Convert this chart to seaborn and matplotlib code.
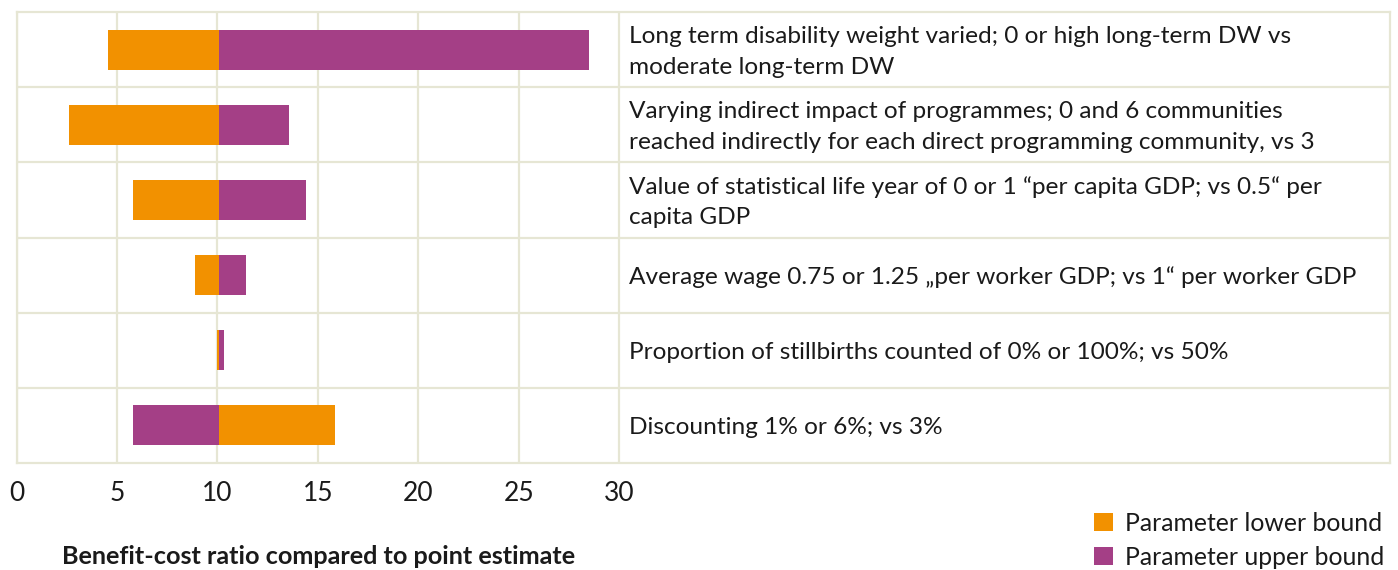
import numpy as np
import pandas as pd
import matplotlib
matplotlib.use("Agg")
import matplotlib.pyplot as plt
import seaborn as sns
from matplotlib.patches import Patch

# --- Data ---
labels = [
    "Long term disability weight varied; 0 or high long-term DW vs\nmoderate long-term DW",
    "Varying indirect impact of programmes; 0 and 6 communities\nreached indirectly for each direct programming community, vs 3",
    "Value of statistical life year of 0 or 1 \u201cper capita GDP; vs 0.5\u201c per\ncapita GDP",
    "Average wage 0.75 or 1.25 \u201eper worker GDP; vs 1\u201c per worker GDP",
    "Proportion of stillbirths counted of 0% or 100%; vs 50%",
    "Discounting 1% or 6%; vs 3%",
]
point_estimate = 10.1
lower_bound = [4.55, 2.6, 5.8, 8.9, 10.0, 15.85]
upper_bound = [28.5, 13.55, 14.4, 11.45, 10.33, 5.8]
x_ticks = [0, 5, 10, 15, 20, 25, 30]
series_names = ["Parameter lower bound", "Parameter upper bound"]

_ORANGE = "#f29100"
_PURPLE = "#a43f86"
_GRID = "#e6e6d4"
_TEXT = "#1a1a1a"

df = pd.DataFrame(
    {
        "row": list(range(len(labels))) * 2,
        "bound": [series_names[0]] * len(labels) + [series_names[1]] * len(labels),
        "delta": [v - point_estimate for v in lower_bound] + [v - point_estimate for v in upper_bound],
    }
)

sns.set_theme(style="white")
plt.rcParams["font.family"] = ["Lato", "DejaVu Sans"]

fig = plt.figure(figsize=(13.98, 5.70), dpi=100)
ax = fig.add_axes([16.5 / 1398, 1 - 463 / 570, (1390 - 16.5) / 1398, (463 - 12) / 570])

ppu = (619 - 16.5) / 30
x_max = (1390 - 16.5) / ppu

sns.barplot(
    data=df,
    x="delta",
    y="row",
    hue="bound",
    orient="h",
    dodge=False,
    palette=[_ORANGE, _PURPLE],
    saturation=1,
    width=0.53,
    left=point_estimate,
    linewidth=0,
    legend=False,
    ax=ax,
    zorder=3,
)

ax.set_xlim(0, x_max)
ax.set_ylim(len(labels) - 0.5, -0.5)

# table grid
for xv in x_ticks:
    ax.axvline(xv, color=_GRID, lw=1.6, zorder=1)
ax.hlines(np.arange(len(labels) - 1) + 0.5, 0, x_max, color=_GRID, lw=1.6, zorder=1)
for s in ax.spines.values():
    s.set_color(_GRID)
    s.set_linewidth(1.6)
    s.set_visible(True)

# row descriptions
for i, txt in enumerate(labels):
    ax.text(30.5, i + 0.03, txt, ha="left", va="center", fontsize=17.6, color=_TEXT,
            linespacing=1.55, zorder=4)

ax.set_xticks(x_ticks)
ax.set_xticklabels([str(t) for t in x_ticks], fontsize=19, color=_TEXT)
ax.set_yticks([])
ax.set_xlabel("")
ax.set_ylabel("")
ax.tick_params(axis="x", length=0, pad=13)

fig.text(62 / 1398, 1 - 556 / 570, "Benefit-cost ratio compared to point estimate",
         fontsize=18.2, fontweight="bold", color=_TEXT, ha="left", va="center")

handles = [Patch(facecolor=c, edgecolor="none", label=n) for c, n in zip([_ORANGE, _PURPLE], series_names)]
fig.legend(handles=handles, loc="lower right", bbox_to_anchor=(1.006, -0.037), frameon=False,
           fontsize=17.8, handlelength=0.75, handleheight=0.75, handletextpad=0.5,
           labelspacing=0.45, labelcolor=_TEXT)

fig.savefig("out.png", dpi=100, facecolor="white")
